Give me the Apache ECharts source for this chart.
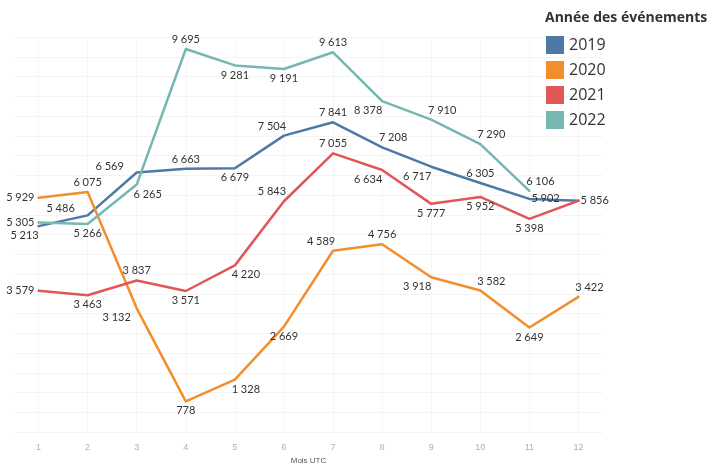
<!DOCTYPE html>
<html>
<head>
<meta charset="utf-8">
<script src="https://cdn.jsdelivr.net/npm/echarts@6/dist/echarts.min.js"></script>
<style>
  html, body { margin: 0; padding: 0; background: #fff; }
  #chart { width: 724px; height: 470px; }
</style>
</head>
<body>
<div id="chart"></div>
<script>
// données
const months = ['1', '2', '3', '4', '5', '6', '7', '8', '9', '10', '11', '12'];
const v2019 = [5213, 5486, 6569, 6663, 6679, 7504, 7841, 7208, 6717, 6305, 5902, 5856];
const v2020 = [5929, 6075, 3132, 778, 1328, 2669, 4589, 4756, 3918, 3582, 2649, 3422];
const v2021 = [3579, 3463, 3837, 3571, 4220, 5843, 7055, 6634, 5777, 5952, 5398, 5856];
const v2022 = [5305, 5266, 6265, 9695, 9281, 9191, 9613, 8378, 7910, 7290, 6106, null];

// placement des étiquettes (t = haut, b = bas, l = gauche, r = droite)
const pos2019 = ['bl', 'tll', 'tll', 't', 'b', 'tl', 't', 'tr', 'bl', 't', 'r', 'r'];
const pos2020 = ['l', 't', 'bll', 'b', 'br', 'b', 'tl', 't', 'bl', 'tr', 'b', 'tr'];
const pos2021 = ['l', 'b', 't', 'b', 'br', 'tl', 't', 'bl', 'b', 'b', 'b', null];
const pos2022 = ['l', 'b', 'br', 't', 'b', 'b', 't', 'bl', 'tr', 'tr', 'tr', null];

const places = {
    t: { position: 'top', d: [0, 0] },
    b: { position: 'bottom', d: [0, 0] },
    l: { position: 'left', d: [0, 0] },
    r: { position: 'right', d: [-2, 0] },
    tl: { position: 'top', d: [-12, 0] },
    tll: { position: 'top', d: [-27, 3] },
    tr: { position: 'top', d: [11, 0] },
    bl: { position: 'bottom', d: [-14, 0] },
    bll: { position: 'bottom', d: [-20, 0] },
    br: { position: 'bottom', d: [11, 0] }
};

function fmt(n) {
    return String(n).replace(/\B(?=(\d{3})+(?!\d))/g, '\u202f');
}

function points(vals, pos) {
    return vals.map(function (v, i) {
        const p = pos[i];
        return {
            value: v,
            label: p ? { show: true, position: places[p].position } : { show: false }
        };
    });
}

// axe caché pour placer les lignes verticales au centre des mois
const halfSteps = [];
for (let i = 0; i <= months.length * 2; i++) halfSteps.push(String(i / 2 + 0.5));

const chart = echarts.init(document.getElementById('chart'));

function line(name, color, vals, pos) {
    return {
        name: name,
        type: 'line',
        data: points(vals, pos),
        showSymbol: true,
        symbol: 'circle',
        symbolSize: 0.1,
        lineStyle: { width: 2.5, color: color, cap: 'round', join: 'round' },
        itemStyle: { color: color },
        label: {
            show: true,
            color: '#333',
            fontSize: 11,
            fontFamily: 'Lato',
            distance: 4,
            formatter: function (p) { return fmt(p.value); }
        },
        labelLayout: function (p) {
            const code = pos[p.dataIndex];
            const d = code ? places[code].d : [0, 0];
            return { dx: d[0], dy: d[1], hideOverlap: false };
        },
        emphasis: { disabled: true },
        z: 3
    };
}

const option = {
    animation: false,
    title: {
        text: 'Année des événements',
        left: 540,
        top: 6,
        textStyle: { fontSize: 14, fontWeight: 'bold', color: '#333', fontFamily: 'Open Sans' }
    },
    legend: {
        orient: 'vertical',
        left: 541,
        top: 31,
        icon: 'rect',
        itemWidth: 18,
        itemHeight: 18,
        itemGap: 7,
        textStyle: { fontSize: 16, color: '#333', fontFamily: 'Open Sans' },
        data: ['2019', '2020', '2021', '2022']
    },
    grid: { left: 14, top: 37, width: 589, bottom: 27 },
    xAxis: [
        {
            type: 'category',
            data: months,
            boundaryGap: true,
            name: 'Mois UTC',
            nameLocation: 'middle',
            nameGap: 22,
            nameTextStyle: { fontSize: 8, color: '#555' },
            axisLine: { show: false },
            axisTick: { show: false },
            axisLabel: { color: '#b0b0b0', fontSize: 9, margin: 11 },
            splitLine: { show: false }
        },
        {
            type: 'category',
            data: halfSteps,
            boundaryGap: false,
            position: 'bottom',
            axisLine: { show: false },
            axisTick: { show: false },
            axisLabel: { show: false },
            splitLine: {
                show: true,
                interval: function (i) { return i % 2 === 1; },
                lineStyle: { color: '#f6f6f6', width: 1 }
            }
        }
    ],
    yAxis: {
        type: 'value',
        min: 0,
        max: 10000,
        interval: 500,
        axisLine: { show: false },
        axisTick: { show: false },
        axisLabel: { show: false },
        splitLine: { lineStyle: { color: '#f4f4f4', width: 1 } }
    },
    series: [
        line('2019', '#4e79a7', v2019, pos2019),
        line('2020', '#f28e2b', v2020, pos2020),
        line('2021', '#e15759', v2021, pos2021),
        line('2022', '#76b7b2', v2022, pos2022)
    ]
};

chart.setOption(option);
</script>
</body>
</html>
